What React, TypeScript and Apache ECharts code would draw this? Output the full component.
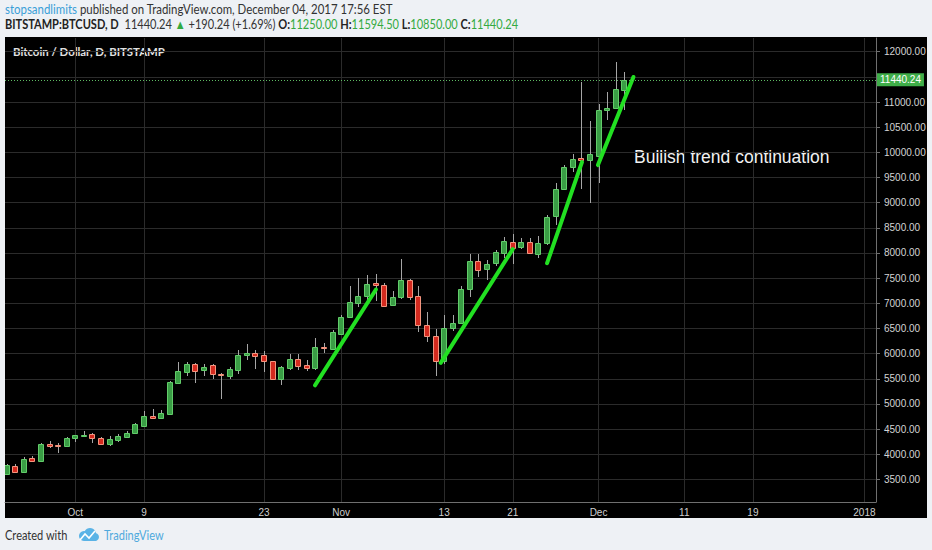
import React, { useEffect, useRef } from 'react';
import * as echarts from 'echarts';

// ---- data (Bitstamp BTCUSD daily) ----
const startDate = '2017-09-23';
const opens = [
  3600, 3775, 3665, 3920, 3870, 4205, 4190, 4165, 4315, 4372, 4396, 4324, 4212, 4290, 4350, 4416, 4568, 4766, 4727, 4805,
  5419, 5637, 5795, 5677, 5769, 5604, 5551, 5683, 5980, 6020, 5967, 5861, 5498, 5729, 5894, 5782, 5716, 6140, 6087, 6405,
  6722, 7007, 7139, 7404, 7371, 6961, 7113, 7470, 7139, 6577, 6352, 5855, 6510, 6610, 7285, 7841, 7669, 7785, 8010, 8228,
  8109, 8222, 7997, 8208, 8724, 9286, 9715, 9894, 9834, 9933, 10839, 10872, 11250,
];
const closes = [
  3780, 3655, 3915, 3870, 4205, 4175, 4162, 4325, 4378, 4390, 4317, 4212, 4310, 4363, 4429, 4594, 4759, 4733, 4819, 5446,
  5657, 5795, 5657, 5743, 5584, 5585, 5690, 5980, 6020, 5954, 5848, 5498, 5743, 5901, 5762, 5723, 6139, 6113, 6424, 6736,
  7020, 7139, 7384, 7371, 6961, 7126, 7457, 7139, 6570, 6352, 5855, 6517, 6616, 7292, 7841, 7669, 7775, 8010, 8241, 8109,
  8215, 7997, 8208, 8724, 9266, 9715, 9867, 9847, 9960, 10839, 10872, 11250, 11440.24,
];
const highs = [
  3810, 3815, 3955, 3965, 4215, 4270, 4220, 4340, 4385, 4460, 4428, 4350, 4365, 4400, 4460, 4615, 4870, 4905, 4880, 5450,
  5842, 5835, 5822, 5800, 5800, 5617, 5735, 6066, 6185, 6066, 6045, 5861, 5760, 5987, 5987, 5881, 6320, 6213, 6464, 6762,
  7351, 7503, 7570, 7590, 7411, 7239, 7874, 7480, 7345, 6828, 6491, 6762, 6762, 7345, 7987, 7987, 7868, 8066, 8320, 8380,
  8307, 8307, 8347, 8757, 9385, 9748, 9966, 11401, 10627, 10958, 11203, 11797, 11594.5,
];
const lows = [
  3580, 3625, 3650, 3850, 3860, 4120, 4020, 4155, 4235, 4365, 4230, 4185, 4165, 4245, 4320, 4400, 4550, 4715, 4715, 4800,
  5393, 5550, 5420, 5550, 5500, 5102, 5505, 5591, 5868, 5690, 5637, 5472, 5373, 5683, 5670, 5650, 5683, 6014, 6067, 6365,
  6709, 6928, 7027, 7040, 6928, 6948, 7093, 7060, 6431, 6232, 5551, 5802, 6451, 6583, 7126, 7523, 7457, 7735, 7910, 7785,
  8076, 7977, 7898, 8162, 8558, 9272, 9616, 9266, 9001, 9385, 10641, 10852, 10850,
];

const xTickDates = ['2017-10-01', '2017-10-09', '2017-10-23', '2017-11-01', '2017-11-13', '2017-11-21', '2017-12-01', '2017-12-11', '2017-12-19', '2018-01-01'];
const xTickLabels = ['Oct', '9', '23', 'Nov', '13', '21', 'Dec', '11', '19', '2018'];
// grid levels (every 500) and the labelled ones (11500 is covered by the last-price tag)
const yGridLevels = [3500, 4000, 4500, 5000, 5500, 6000, 6500, 7000, 7500, 8000, 8500, 9000, 9500, 10000, 10500, 11000, 11500, 12000];
const yLabelLevels = [3500, 4000, 4500, 5000, 5500, 6000, 6500, 7000, 7500, 8000, 8500, 9000, 9500, 10000, 10500, 11000, 12000];

// trend lines drawn by the author: [dayOffset, price] start and end
const trendStarts = [[35.94, 5369], [50.6, 5817], [63.0, 7797], [68.93, 9747]];
const trendEnds = [[43.05, 7274], [59.0, 8076], [67.07, 9807], [73.07, 11498]];

const DAY = 86400000;
const dayIndex = (d: string) => Math.round((Date.parse(d) - Date.parse(startDate)) / DAY);
const xTickIdx = xTickDates.map(dayIndex);

const candleData = opens.map((o, i) => [i, o, closes[i], lows[i], highs[i]]);
const n = closes.length;
const last = closes[n - 1];
const prev = closes[n - 2];
const chg = last - prev;
const pct = (chg / prev) * 100;

const UI_FONT = 'Lato, "Open Sans", sans-serif';
const AX_FONT = '"Liberation Sans", Arial, sans-serif';

function renderCandle(params: any, api: any) {
  const x = api.value(0);
  const o = api.value(1);
  const c = api.value(2);
  const l = api.value(3);
  const h = api.value(4);
  const pO = api.coord([x, o]);
  const pC = api.coord([x, c]);
  const pL = api.coord([x, l]);
  const pH = api.coord([x, h]);
  const cx = Math.round(pO[0]);
  const up = c >= o;
  const top = Math.round(Math.min(pO[1], pC[1]));
  const bh = Math.max(1, Math.round(Math.abs(pO[1] - pC[1])));
  return {
    type: 'group',
    children: [
      {
        type: 'line',
        shape: { x1: cx + 0.5, y1: Math.round(pH[1]), x2: cx + 0.5, y2: Math.round(pL[1]) },
        style: { stroke: '#a6a6a6', lineWidth: 1 },
      },
      {
        type: 'rect',
        shape: { x: cx - 2.5, y: top + 0.5, width: 5, height: bh },
        style: {
          fill: up ? '#3a9d45' : '#d42a1f',
          stroke: up ? '#62cc6a' : '#f3957f',
          lineWidth: 1,
        },
      },
    ],
  };
}

export default function App() {
  const ref = useRef<HTMLDivElement>(null);
  useEffect(() => {
    if (!ref.current) return;
    const chart = echarts.init(ref.current, undefined, { renderer: 'svg' });

    const trendSeries = trendStarts.map((s, k) => ({
      type: 'line',
      data: [s, trendEnds[k]],
      showSymbol: false,
      silent: true,
      z: 4,
      lineStyle: { color: '#22e022', width: 4, cap: 'round' },
      ...(k === 0
        ? {
            markLine: {
              silent: true,
              symbol: ['none', 'none'],
              data: [{ yAxis: last }],
              lineStyle: { color: '#5dbb62', type: [1, 2], width: 1 },
              label: {
                show: true,
                position: 'end',
                distance: 1,
                formatter: last.toFixed(2),
                color: '#ffffff',
                backgroundColor: '#3fae49',
                padding: [2, 3, 1, 3],
                fontSize: 10,
                fontFamily: AX_FONT,
              },
            },
          }
        : {}),
    }));

    const header2 =
      '{b|BITSTAMP:BTCUSD, D}{n|  ' + last.toFixed(2) + ' }{g|▲}{n| +' + chg.toFixed(2) + ' (+' + pct.toFixed(2) + '%) }' +
      '{b|O:}{g|' + opens[n - 1].toFixed(2) + '}{b| H:}{g|' + highs[n - 1].toFixed(2) + '}{b| L:}{g|' +
      lows[n - 1].toFixed(2) + '}{b| C:}{g|' + last.toFixed(2) + '}';

    const option: any = {
      animation: false,
      backgroundColor: '#eef1f5',
      grid: { left: 5, right: 56, top: 38, bottom: 48, containLabel: false, outerBoundsMode: 'none' },
      xAxis: {
        type: 'value',
        min: -0.2,
        max: 101.35,
        axisLine: { show: true, onZero: false, lineStyle: { color: '#6f6f6f' } },
        axisTick: { show: false, customValues: xTickIdx },
        axisLabel: {
          customValues: xTickIdx,
          formatter: (v: number) => {
            const k = xTickIdx.indexOf(Math.round(v));
            return k >= 0 ? xTickLabels[k] : '';
          },
          color: '#cfcfcf',
          fontSize: 10,
          fontFamily: AX_FONT,
          margin: 5,
        },
        splitLine: { show: true, lineStyle: { color: '#2b2b2b', width: 1 } },
      },
      yAxis: {
        type: 'value',
        position: 'right',
        min: 3052,
        max: 12272,
        axisLine: { show: true, onZero: false, lineStyle: { color: '#6f6f6f' } },
        axisTick: { show: true, length: 4, customValues: yGridLevels, lineStyle: { color: '#6f6f6f' } },
        axisLabel: {
          customValues: yLabelLevels,
          formatter: (v: number) => v.toFixed(2),
          color: '#d4d4d4',
          fontSize: 10,
          fontFamily: AX_FONT,
          margin: 8,
        },
        splitLine: { show: true, lineStyle: { color: '#2b2b2b', width: 1 } },
      },
      series: [
        {
          type: 'custom',
          name: 'BTCUSD',
          data: candleData,
          encode: { x: 0, y: [1, 2, 3, 4] },
          renderItem: renderCandle,
          clip: true,
          silent: true,
          z: 3,
        },
        ...trendSeries,
      ],
      graphic: {
        elements: [
          {
            type: 'rect',
            z: -10,
            silent: true,
            shape: { x: 5, y: 37, width: 922, height: 481 },
            style: { fill: '#000000' },
          },
          {
            type: 'text',
            x: 5,
            y: 9,
            scaleX: 0.88,
            silent: true,
            style: {
              text: '{u|stopsandlimits}{t| published on TradingView.com, December 04, 2017 17:56 EST}',
              fontFamily: UI_FONT,
              fontSize: 13,
              verticalAlign: 'middle',
              rich: {
                u: { fill: '#3a9fd8', fontFamily: UI_FONT, fontSize: 13 },
                t: { fill: '#333333', fontFamily: UI_FONT, fontSize: 13 },
              },
            },
          },
          {
            type: 'text',
            x: 5,
            y: 24,
            scaleX: 0.85,
            silent: true,
            style: {
              text: header2,
              fontFamily: UI_FONT,
              fontSize: 13,
              verticalAlign: 'middle',
              rich: {
                b: { fill: '#222222', fontWeight: 'bold', fontFamily: UI_FONT, fontSize: 13 },
                n: { fill: '#333333', fontFamily: UI_FONT, fontSize: 13 },
                g: { fill: '#33aa3f', fontFamily: UI_FONT, fontSize: 13 },
              },
            },
          },
          {
            type: 'text',
            x: 13,
            y: 51,
            scaleX: 0.95,
            silent: true,
            style: {
              text: 'Bitcoin / Dollar, D, BITSTAMP',
              fill: '#e2e2e2',
              fontFamily: UI_FONT,
              fontWeight: 'bold',
              fontSize: 12,
              verticalAlign: 'middle',
            },
          },
          {
            type: 'text',
            x: 634,
            y: 157,
            silent: true,
            style: {
              text: 'Bullish trend continuation',
              fill: '#f2f2f2',
              fontFamily: AX_FONT,
              fontSize: 17.5,
              verticalAlign: 'middle',
            },
          },
          {
            type: 'text',
            x: 5,
            y: 535,
            scaleX: 0.85,
            silent: true,
            style: {
              text: 'Created with',
              fill: '#333333',
              fontFamily: UI_FONT,
              fontSize: 13,
              verticalAlign: 'middle',
            },
          },
          {
            type: 'group',
            x: 78,
            y: 528,
            silent: true,
            children: [
              { type: 'circle', shape: { cx: 6, cy: 8, r: 5 }, style: { fill: '#5ab3e6' } },
              { type: 'circle', shape: { cx: 12, cy: 6, r: 6 }, style: { fill: '#5ab3e6' } },
              { type: 'circle', shape: { cx: 17, cy: 9, r: 4 }, style: { fill: '#5ab3e6' } },
              { type: 'rect', shape: { x: 6, y: 8, width: 11, height: 5 }, style: { fill: '#5ab3e6' } },
              {
                type: 'polyline',
                shape: { points: [[2, 12], [7, 6], [11, 10], [17, 3]] },
                style: { stroke: '#ffffff', lineWidth: 1.6, fill: 'none' },
              },
            ],
          },
          {
            type: 'text',
            x: 104,
            y: 535,
            scaleX: 0.85,
            silent: true,
            style: {
              text: 'TradingView',
              fill: '#4fa9dd',
              fontFamily: UI_FONT,
              fontSize: 13,
              verticalAlign: 'middle',
            },
          },
        ],
      },
    };

    chart.setOption(option);
    return () => chart.dispose();
  }, []);

  return <div ref={ref} style={{ position: 'fixed', left: 0, top: 0, width: 932, height: 550 }} />;
}
